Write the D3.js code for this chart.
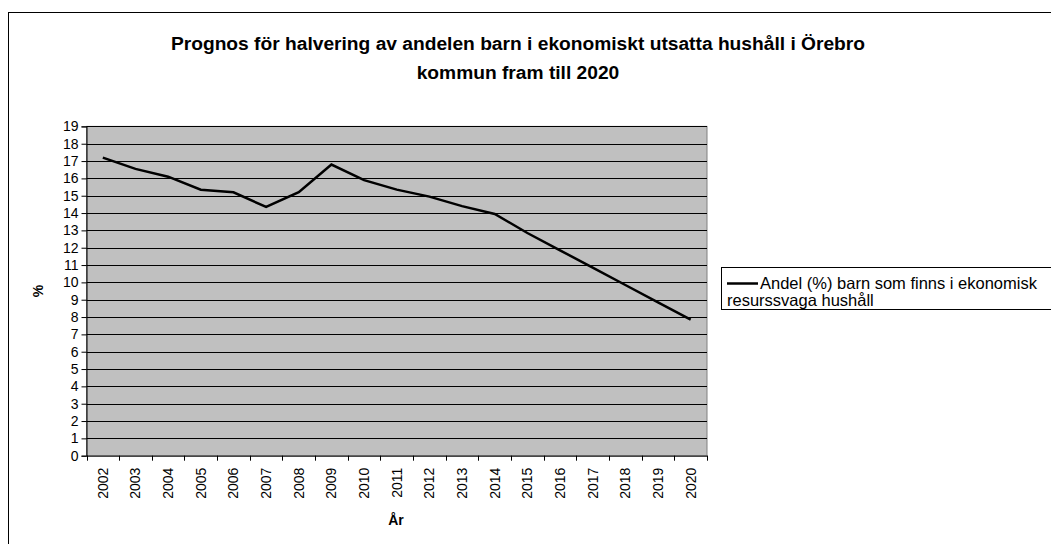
<!DOCTYPE html>
<html lang="sv">
<head>
<meta charset="UTF-8">
<title>Prognos</title>
<style>
  body { margin: 0; background: #fff; }
  svg { display: block; font-family: "Liberation Sans", Arial, sans-serif; }
</style>
</head>
<body>
<div id="chart"></div>
<script src="https://d3js.org/d3.v7.min.js"></script>
<script>
  // data
  const years = ['2002', '2003', '2004', '2005', '2006', '2007', '2008', '2009', '2010', '2011',
    '2012', '2013', '2014', '2015', '2016', '2017', '2018', '2019', '2020']
  const andel = [17.2, 16.55, 16.1, 15.35, 15.2, 14.35, 15.2, 16.8, 15.9, 15.35,
    14.95, 14.4, 13.95, 12.85, 11.85, 10.85, 9.85, 8.85, 7.85]
  const yTicks = d3.range(0, 20)
  const titleLines = ['Prognos för halvering av andelen barn i ekonomiskt utsatta hushåll i Örebro',
    'kommun fram till 2020']
  const legendLines = ['Andel (%) barn som finns i ekonomisk', 'resurssvaga hushåll']

  const W = 1051, H = 544
  const plot = { left: 86.5, right: 707, top: 126.4, bottom: 455.7 }

  const svg = d3.select('#chart').append('svg')
    .attr('width', W)
    .attr('height', H)

  // outer chart border (runs off the right and bottom edges)
  svg.append('rect')
    .attr('x', 8.5).attr('y', 12.5)
    .attr('width', W + 10).attr('height', H + 10)
    .attr('fill', 'none').attr('stroke', '#000').attr('stroke-width', 1)

  // title
  svg.append('text')
    .attr('text-anchor', 'middle')
    .attr('font-size', '19.2px').attr('font-weight', 'bold')
    .selectAll('tspan')
    .data(titleLines)
    .enter().append('tspan')
    .attr('x', 518)
    .attr('y', (d, i) => 50 + i * 29)
    .text(d => d)

  const x = d3.scaleBand().domain(years).range([plot.left, plot.right])
  const y = d3.scaleLinear().domain([0, 19]).range([plot.bottom, plot.top])

  // plot background
  svg.append('rect')
    .attr('x', plot.left).attr('y', plot.top)
    .attr('width', plot.right - plot.left).attr('height', plot.bottom - plot.top)
    .attr('fill', '#c0c0c0')
    .attr('stroke', '#808080')

  // gridlines
  svg.append('g')
    .selectAll('line')
    .data(yTicks.filter(d => d > 0))
    .enter().append('line')
    .attr('x1', plot.left).attr('x2', plot.right)
    .attr('y1', d => Math.round(y(d)) + 0.5).attr('y2', d => Math.round(y(d)) + 0.5)
    .attr('stroke', '#000').attr('stroke-width', 1)

  // y axis
  const yAxis = d3.axisLeft(y).tickValues(yTicks).tickSize(5).tickPadding(3)
  const gy = svg.append('g')
    .attr('transform', `translate(${plot.left},0)`)
    .call(yAxis)
  gy.select('.domain').attr('stroke', '#000')
  gy.selectAll('text').attr('font-size', '14px').attr('fill', '#000')
    .attr('font-family', '"Liberation Sans", Arial, sans-serif')

  // x axis
  const xAxis = d3.axisBottom(x).tickSizeOuter(0).tickSize(0)
  const gx = svg.append('g')
    .attr('transform', `translate(0,${plot.bottom})`)
    .call(xAxis)
  gx.select('.domain').attr('stroke', '#000')
  gx.selectAll('text')
    .attr('font-size', '14px').attr('fill', '#000')
    .attr('font-family', '"Liberation Sans", Arial, sans-serif')
    .attr('transform', 'rotate(-90)')
    .attr('text-anchor', 'end')
    .attr('x', -12).attr('y', 0).attr('dy', '0.35em')
  // category boundary ticks
  svg.append('g')
    .selectAll('line')
    .data(years.concat(['end']))
    .enter().append('line')
    .attr('x1', (d, i) => Math.round(plot.left + i * x.step()) + 0.5)
    .attr('x2', (d, i) => Math.round(plot.left + i * x.step()) + 0.5)
    .attr('y1', plot.bottom).attr('y2', plot.bottom + 5)
    .attr('stroke', '#000')

  // the series
  const line = d3.line()
    .x((d, i) => x(years[i]) + x.bandwidth() / 2)
    .y(d => y(d))
  svg.append('path')
    .datum(andel)
    .attr('d', line)
    .attr('fill', 'none')
    .attr('stroke', '#000')
    .attr('stroke-width', 2.5)
    .attr('stroke-linejoin', 'miter')

  // axis titles
  svg.append('text')
    .attr('transform', 'translate(43,291) rotate(-90)')
    .attr('text-anchor', 'middle')
    .attr('font-size', '14px').attr('font-weight', 'bold')
    .text('%')
  svg.append('text')
    .attr('x', 396).attr('y', 525)
    .attr('text-anchor', 'middle')
    .attr('font-size', '14px').attr('font-weight', 'bold')
    .text('År')

  // legend
  const lg = svg.append('g')
  lg.append('rect')
    .attr('x', 721.5).attr('y', 267.5)
    .attr('width', 400).attr('height', 42)
    .attr('fill', '#fff').attr('stroke', '#000')
  lg.append('line')
    .attr('x1', 727).attr('x2', 758)
    .attr('y1', 283.5).attr('y2', 283.5)
    .attr('stroke', '#000').attr('stroke-width', 2.5)
  lg.append('text')
    .attr('font-size', '16.5px')
    .selectAll('tspan')
    .data(legendLines)
    .enter().append('tspan')
    .attr('x', (d, i) => i === 0 ? 760 : 727)
    .attr('y', (d, i) => 289 + i * 17)
    .text(d => d)
</script>
</body>
</html>
